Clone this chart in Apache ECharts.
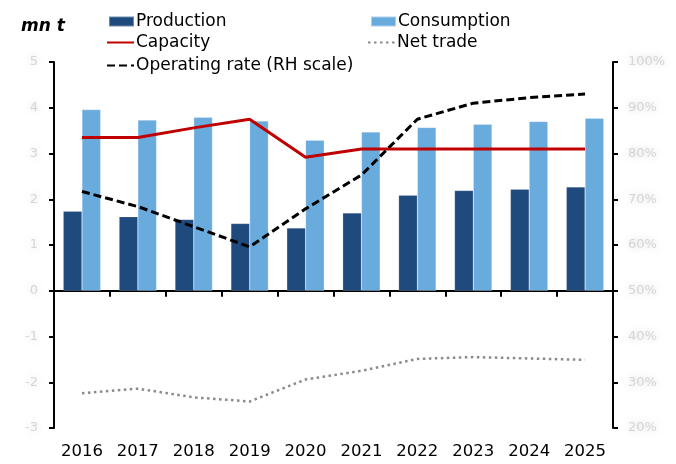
<!DOCTYPE html>
<html>
<head>
<meta charset="utf-8">
<script src="https://cdn.jsdelivr.net/npm/echarts@6/dist/echarts.min.js"></script>
<style>
  html, body { margin: 0; padding: 0; background: #fff; }
  #chart { width: 676px; height: 464px; }
</style>
</head>
<body>
<div id="chart"></div>
<script>
// values (left scale: mn t, right scale: %)
var years = ['2016','2017','2018','2019','2020','2021','2022','2023','2024','2025'];
var production  = [1.74, 1.62, 1.56, 1.47, 1.37, 1.70, 2.09, 2.19, 2.22, 2.27];
var consumption = [3.96, 3.73, 3.79, 3.71, 3.29, 3.47, 3.57, 3.64, 3.70, 3.77];
var capacity    = [3.35, 3.35, 3.56, 3.75, 2.92, 3.10, 3.10, 3.10, 3.10, 3.10];
var netTrade    = [-2.24, -2.14, -2.33, -2.42, -1.94, -1.75, -1.49, -1.45, -1.48, -1.51];
var operatingRate = [71.7, 68.4, 64.0, 59.6, 67.9, 75.3, 87.5, 91.0, 92.2, 93.0];

var font = 'DejaVu Sans';
var blurLabel = {
    color: 'rgba(185,185,185,0.55)',
    textShadowColor: 'rgba(170,170,170,0.9)',
    textShadowBlur: 7,
    fontFamily: font,
    fontSize: 13
};

var chart = echarts.init(document.getElementById('chart'));

function legendAt(name, left, top, w, h, isLine) {
    var lg = {
        data: [name],
        left: left,
        top: top,
        itemWidth: w,
        itemHeight: h,
        itemGap: 0,
        padding: 0,
        selectedMode: false,
        textStyle: { fontFamily: font, fontSize: 17, color: '#000', padding: [0, 0, 0, -3] }
    };
    if (isLine) {
        lg.itemStyle = { opacity: 0 };
    } else {
        lg.icon = 'rect';
    }
    return lg;
}

var option = {
    animation: false,
    backgroundColor: '#fff',
    title: {
        text: 'mn t',
        left: 21,
        top: 18,
        padding: 0,
        textStyle: { fontFamily: font, fontSize: 17, fontStyle: 'italic', fontWeight: 'bold', color: '#000' }
    },
    legend: [
        legendAt('Production', 108, 13, 25, 10, false),
        legendAt('Consumption', 370, 13, 25, 10, false),
        legendAt('Capacity', 106, 34, 27, 14, true),
        legendAt('Net trade', 367, 34, 27, 14, true),
        legendAt('Operating rate (RH scale)', 106, 57, 27, 14, true)
    ],
    grid: { left: 54, right: 63, top: 62, bottom: 36, containLabel: false },
    xAxis: [
        {
            type: 'category',
            data: years,
            position: 'bottom',
            axisLine: { onZero: true, lineStyle: { color: '#000', width: 2 } },
            axisTick: { show: true, alignWithLabel: false, length: 6, lineStyle: { color: '#000', width: 2 } },
            axisLabel: { show: false },
            splitLine: { show: false }
        },
        {
            type: 'category',
            data: years,
            position: 'bottom',
            axisLine: { show: false, onZero: false },
            axisTick: { show: false },
            axisLabel: { show: true, interval: 0, margin: 15, fontFamily: font, fontSize: 16.5, color: '#000' },
            splitLine: { show: false }
        }
    ],
    yAxis: [
        {
            type: 'value',
            min: -3,
            max: 5,
            interval: 1,
            position: 'left',
            axisLine: { show: true, lineStyle: { color: '#000', width: 2 } },
            axisTick: { show: true, length: 5, lineStyle: { color: '#000', width: 2 } },
            axisLabel: Object.assign({ margin: 16 }, blurLabel),
            splitLine: { show: false }
        },
        {
            type: 'value',
            min: 20,
            max: 100,
            interval: 10,
            position: 'right',
            axisLine: { show: true, lineStyle: { color: '#000', width: 2 } },
            axisTick: { show: true, length: 5, lineStyle: { color: '#000', width: 2 } },
            axisLabel: Object.assign({ margin: 15, formatter: '{value}%' }, blurLabel),
            splitLine: { show: false }
        }
    ],
    series: [
        {
            name: 'Production',
            type: 'bar',
            data: production,
            barWidth: '33.5%',
            barGap: '0%',
            itemStyle: { color: '#1f4a7d', borderColor: 'rgba(255,255,255,0.35)', borderWidth: 0.5 }
        },
        {
            name: 'Consumption',
            type: 'bar',
            data: consumption,
            barWidth: '33.5%',
            barGap: '0%',
            itemStyle: { color: '#6aabde', borderColor: 'rgba(255,255,255,0.45)', borderWidth: 0.5 }
        },
        {
            name: 'Capacity',
            type: 'line',
            data: capacity,
            symbol: 'none',
            lineStyle: { color: '#c00000', width: 3 },
            itemStyle: { color: '#c00000' },
            z: 5
        },
        {
            name: 'Net trade',
            type: 'line',
            data: netTrade,
            symbol: 'none',
            lineStyle: { color: '#8a8a8a', width: 2.5, type: [2.5, 3.5] },
            itemStyle: { color: '#8a8a8a' },
            z: 5
        },
        {
            name: 'Operating rate (RH scale)',
            type: 'line',
            yAxisIndex: 1,
            data: operatingRate,
            symbol: 'none',
            lineStyle: { color: '#000', width: 3, type: [8, 4] },
            itemStyle: { color: '#000' },
            z: 6
        }
    ]
};

chart.setOption(option);
</script>
</body>
</html>
